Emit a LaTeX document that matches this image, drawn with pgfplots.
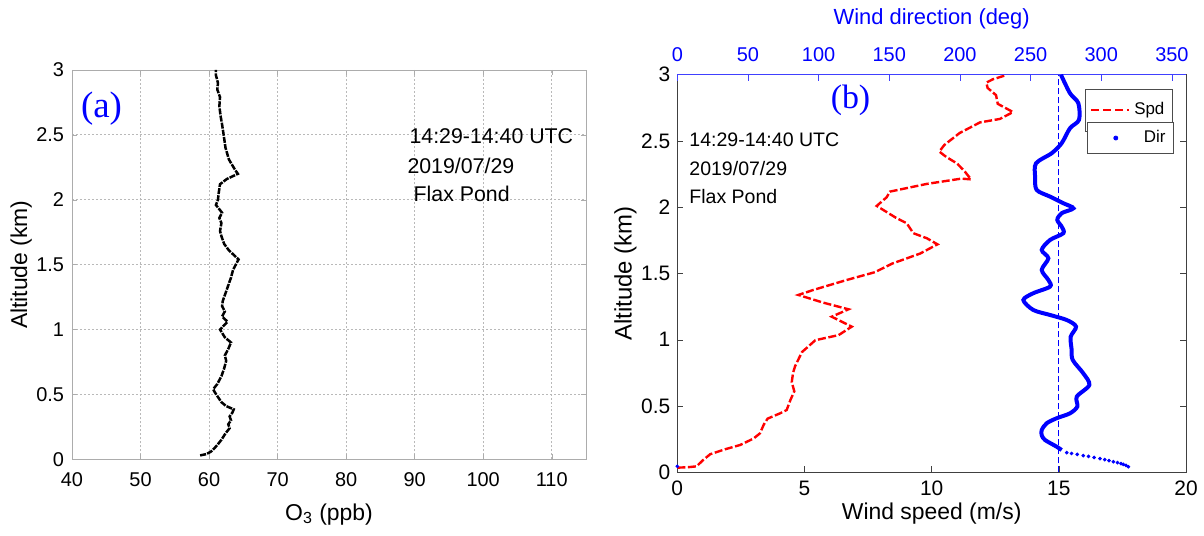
\documentclass[border=0pt]{standalone}
\usepackage{fontspec}
\setmainfont{Liberation Sans}
\newfontfamily\serifpanel{Liberation Serif}
\usepackage{pgfplots}
\pgfplotsset{compat=1.18}

\newcommand\fs[1]{\fontsize{#1}{#1}\selectfont}

\begin{document}
\begin{tikzpicture}
\path[use as bounding box] (0,0) rectangle (602bp,268bp);

% ---------------- (a) ozone profile ----------------
\begin{axis}[
  at={(36bp,38.35bp)}, anchor=south west,
  width=257bp, height=194.65bp, scale only axis,
  xmin=40, xmax=115, ymin=0, ymax=3,
  xtick={40,50,...,110}, ytick={0,0.5,...,3},
  grid=major,
  major grid style={gray!55, dash pattern=on 1pt off 1pt},
  axis line style={gray!65},
  tick style={gray!65},
  major tick length=2.5bp,
  tick align=inside,
  /pgf/number format/assume math mode=true,
  ticklabel style={font=\fs{10}},
  yticklabel style={/pgf/number format/fixed, xshift=-0.5bp},
  xticklabel style={yshift=-3bp},
  xlabel={O\textsubscript{3} (ppb)},
  ylabel={Altitude (km)},
  label style={font=\fs{11.5}},
  xlabel style={at={(axis description cs:0.5,0)}, anchor=north, yshift=-22bp, inner sep=0pt},
  ylabel style={at={(axis description cs:-0.099,0.5)}, anchor=center, inner sep=0pt},
]
\addplot[black, line width=1.25bp, dash pattern=on 3bp off 0.6bp] coordinates {
 (58.7,0.03) (59.6,0.04) (60.3,0.06) (60.6,0.075) (61.2,0.11) (61.8,0.15)
 (62.4,0.20) (63.0,0.24) (62.8,0.27) (63.2,0.30) (63.0,0.33) (63.4,0.36)
 (63.6,0.385) (62.5,0.41) (61.8,0.44) (61.3,0.48) (60.8,0.52) (60.6,0.54)
 (61.2,0.58) (61.8,0.64) (62.2,0.70) (62.5,0.76) (62.3,0.80) (62.8,0.85)
 (63.2,0.90) (62.3,0.94) (61.6,1.00) (62.7,1.06) (61.9,1.10) (62.3,1.14)
 (61.9,1.18) (62.0,1.22) (62.4,1.28) (62.8,1.34) (63.2,1.40) (63.5,1.46)
 (64.0,1.51) (64.3,1.54) (63.5,1.58) (62.9,1.61) (62.2,1.66) (61.8,1.72)
 (61.6,1.76) (61.8,1.82) (61.5,1.86) (61.9,1.90) (61.0,1.96) (61.3,2.00)
 (61.4,2.05) (61.6,2.12) (62.6,2.16) (64.2,2.20) (63.8,2.23) (62.9,2.31)
 (62.4,2.40) (62.1,2.51) (61.9,2.58) (61.7,2.64) (61.5,2.72) (61.6,2.79)
 (61.2,2.85) (61.3,2.90) (61.0,2.96) (61.0,3.00)
};
\node[anchor=base west, inner sep=0pt, font=\fs{10.7}] at (axis cs:89.2,2.435) {14:29-14:40 UTC};
\node[anchor=base west, inner sep=0pt, font=\fs{10.7}] at (axis cs:88.9,2.20) {2019/07/29};
\node[anchor=base west, inner sep=0pt, font=\fs{10.7}] at (axis cs:89.8,1.983) {Flax Pond};
\node[font=\serifpanel\fs{18.5}, text=blue] at (axis cs:44.3,2.70) {(a)};
\end{axis}

% ---------------- (b) wind speed (bottom axis) ----------------
\begin{axis}[
  at={(338.65bp,31.85bp)}, anchor=south west,
  width=254.35bp, height=198.8bp, scale only axis,
  xmin=0, xmax=20, ymin=0, ymax=3,
  xtick={0,5,...,20}, ytick={0,0.5,...,3},
  xtick pos=bottom, ytick pos=both,
  axis line style={gray!50!black},
  tick style={gray!50!black},
  major tick length=3bp,
  tick align=inside,
  /pgf/number format/assume math mode=true,
  ticklabel style={font=\fs{10.5}},
  yticklabel style={/pgf/number format/fixed},
  xticklabel style={yshift=-1bp},
  xlabel={Wind speed (m/s)},
  ylabel={Altitude (km)},
  xlabel style={font=\fs{11.5}, at={(axis description cs:0.5,0)}, anchor=north, yshift=-15bp, inner sep=0pt},
  ylabel style={font=\fs{12}, at={(axis description cs:-0.102,0.5)}, anchor=center, inner sep=0pt},
  legend style={at={(0.974,0.964)}, anchor=north east, draw=gray!60!black,
    font=\fs{8.5}, inner xsep=2bp, inner ysep=4.6bp, row sep=0pt},
]
\addplot[red, line width=1.2bp, dash pattern=on 4bp off 1.3bp,
  legend image code/.code={\draw[red, line width=1.2bp, dash pattern=on 4bp off 2bp] (0bp,0bp) -- (19bp,0bp);}]
  coordinates {
 (0,0.035) (0.40,0.038) (0.76,0.045) (1.0,0.09) (1.29,0.136) (1.9,0.175)
 (2.47,0.206) (3.0,0.255) (3.25,0.294) (3.4,0.36) (3.55,0.405) (4.04,0.445)
 (4.3,0.47) (4.45,0.547) (4.6,0.611) (4.5,0.68) (4.55,0.75) (4.63,0.80)
 (4.9,0.907) (5.43,0.997) (6.34,1.035) (6.86,1.099) (6.07,1.174) (6.73,1.23)
 (5.74,1.28) (4.76,1.338) (5.35,1.376) (6.66,1.451) (7.77,1.51) (8.45,1.575)
 (9.54,1.65) (10.23,1.72) (9.81,1.766) (9.28,1.804) (9.02,1.879) (8.6,1.92)
 (7.84,2.01) (8.23,2.075) (8.36,2.118) (9.81,2.176) (11.17,2.216) (11.55,2.21)
 (11.3,2.27) (11.0,2.33) (10.57,2.38) (10.3,2.42) (10.5,2.47) (11.1,2.56)
 (11.9,2.64) (12.68,2.666) (13.2,2.718) (12.6,2.78) (12.53,2.846) (12.2,2.90)
 (12.15,2.94) (12.4,2.965) (12.9,2.995)
};
\addlegendentry{Spd}
% reference line at 15 m/s (270 deg)
\addplot[blue, thin, dash pattern=on 3bp off 1.5bp, forget plot] coordinates {(15,0) (15,3)};
\node[anchor=base west, inner sep=0pt, font=\fs{9.8}] at (axis cs:0.46,2.455) {14:29-14:40 UTC};
\node[anchor=base west, inner sep=0pt, font=\fs{9.8}] at (axis cs:0.46,2.24) {2019/07/29};
\node[anchor=base west, inner sep=0pt, font=\fs{9.8}] at (axis cs:0.46,2.03) {Flax Pond};
\node[font=\serifpanel\fs{17}, text=blue] at (axis cs:6.81,2.81) {(b)};
\end{axis}

% ---------------- (b) wind direction (top axis) ----------------
\begin{axis}[
  at={(338.65bp,31.85bp)}, anchor=south west,
  width=254.35bp, height=198.8bp, scale only axis,
  xmin=0, xmax=360, ymin=0, ymax=3,
  axis x line*=top, hide y axis,
  xtick={0,50,...,350},
  x axis line style={blue!75!white, -},
  tick style={blue!75!white},
  major tick length=3bp,
  tick align=inside,
  /pgf/number format/assume math mode=true,
  xticklabel style={font=\fs{10}, text=blue, yshift=3bp},
  xlabel={Wind direction (deg)},
  xlabel style={font=\fs{11}, text=blue, yshift=2.5bp},
  legend style={at={(0.976,0.881)}, anchor=north east, draw=gray!60!black,
    font=\fs{8.5}, inner xsep=2bp, inner ysep=2bp},
]
\addplot[blue, line width=2bp, smooth, tension=0.5, forget plot] coordinates {
 (272.0,0.168) (268.5,0.193) (260.2,0.244) (257.9,0.280) (257.9,0.319)
 (261.4,0.370) (268.5,0.408) (277.9,0.445) (283.1,0.496) (282.7,0.571)
 (291.6,0.659) (287.3,0.747) (279.8,0.848) (279.0,0.930) (278.4,1.023)
 (282.2,1.099) (275.6,1.149) (263.8,1.187) (251.9,1.225) (244.9,1.300)
 (251.9,1.351) (263.8,1.401) (262.6,1.451) (257.9,1.527) (262.6,1.615)
 (257.9,1.678) (263.8,1.753) (273.2,1.804) (272.0,1.854) (268.9,1.904)
 (272.0,1.955) (280.3,1.992) (273.2,2.030) (263.8,2.080) (254.3,2.131)
 (253.2,2.231) (253.9,2.332) (265.0,2.408) (272.0,2.483) (277.9,2.596)
 (284.3,2.660) (283.8,2.785) (277.9,2.860) (271.5,3.000)
};
\addplot[only marks, mark=*, mark size=0.7bp, blue,
  legend image code/.code={\path[draw=none, fill=none] (0bp,0bp) -- (24bp,0bp); \fill[blue] (12bp,0bp) circle (1bp);}]
  coordinates {
 (0,0.045)
 (275.6,0.148) (279.0,0.142) (283.0,0.135) (287.3,0.126) (291.0,0.120)
 (295.0,0.112) (299.1,0.103) (302.5,0.096) (305.5,0.088) (308.6,0.080)
 (311.5,0.073) (314.0,0.066) (315.6,0.060) (317.5,0.052) (319.2,0.042)
};
\addlegendentry{Dir}
\end{axis}
\end{tikzpicture}
\end{document}
